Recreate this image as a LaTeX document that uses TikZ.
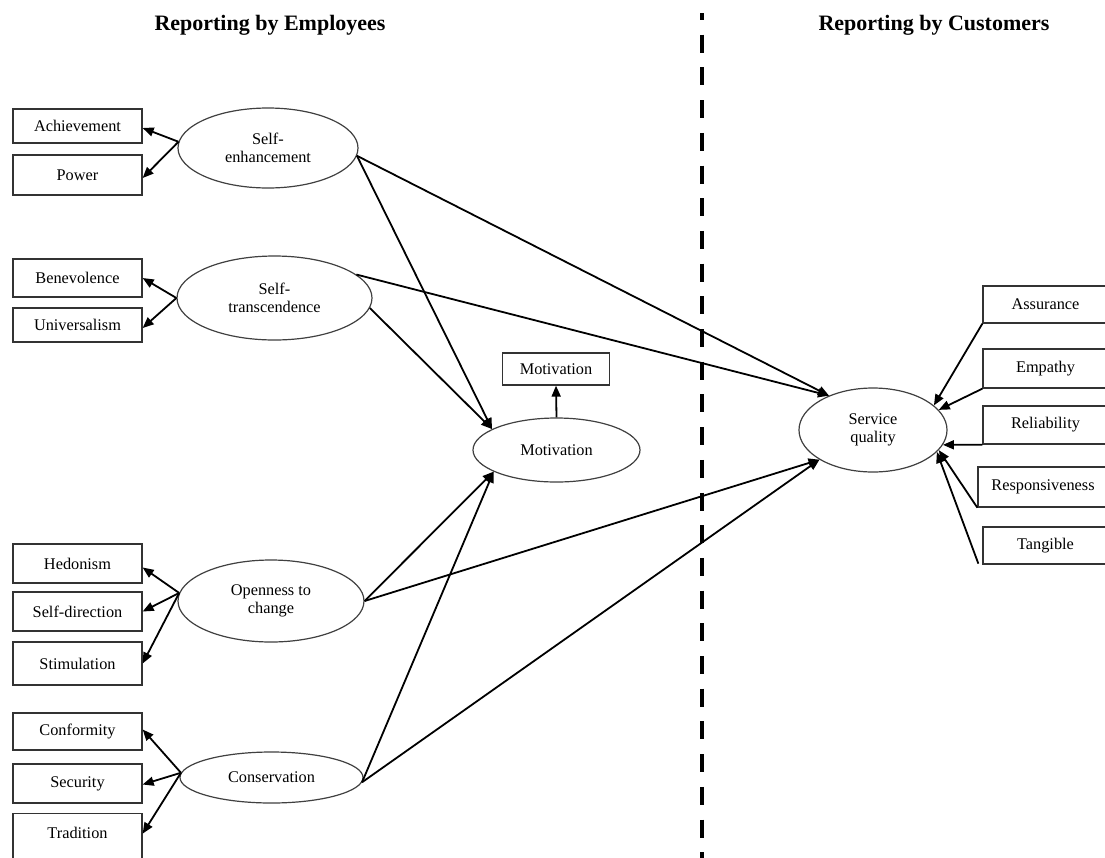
\documentclass[tikz,border=0pt]{standalone}
\usepackage{fontspec}
\setmainfont{Liberation Serif}
\usetikzlibrary{shapes.geometric,arrows.meta,calc}
\begin{document}
\begin{tikzpicture}[x=1pt,y=-1pt,
  lbox/.style={draw=black!80,line width=1.3pt,minimum width=129pt,inner sep=0pt,
    font=\fontsize{16.3}{17}\selectfont},
  rbox/.style={draw=black!80,line width=1.3pt,minimum width=125pt,inner sep=0pt,
    font=\fontsize{16.3}{17}\selectfont},
  ell/.style={ellipse,draw=black!75,line width=1.2pt,inner sep=0pt,align=center,
    font=\fontsize{16.3}{17.5}\selectfont},
  arr/.style={-{Triangle[length=11pt,width=9pt]},line width=1.8pt,black},
  head/.style={font=\fontsize{22}{24}\selectfont\bfseries}]
\useasboundingbox (0,0) rectangle (1105,857);
\clip (0,0) rectangle (1105,857);
\fill[white] (0,0) rectangle (1105,857);

% headings
\node[head] (hemp) at (270,25) {Reporting by Employees};
\node[head] (hcus) at (934,25) {Reporting by Customers};
\draw[line width=4pt,dash pattern=on 18pt off 14.7pt,dash phase=11pt] (702,13) -- (702,860);

% left boxes
\node[lbox,minimum height=34pt] (ach) at (77.5,126) {Achievement};
\node[lbox,minimum height=40pt] (pow) at (77.5,175) {Power};
\node[lbox,minimum height=38pt] (ben) at (77.5,278) {Benevolence};
\node[lbox,minimum height=34pt] (uni) at (77.5,325) {Universalism};
\node[lbox,minimum height=39pt] (hed) at (77.5,563.5) {Hedonism};
\node[lbox,minimum height=39pt] (sdir) at (77.5,611.5) {Self-direction};
\node[lbox,minimum height=43pt] (sti) at (77.5,663.5) {Stimulation};
\node[lbox,minimum height=37pt] (con) at (77.5,731.5) {Conformity};
\node[lbox,minimum height=39pt] (sec) at (77.5,783.5) {Security};
\node[lbox,anchor=north,text height=11pt,text depth=40pt,inner ysep=14pt] (tra) at (77.5,813) {Tradition};

% ellipses
\node[ell,minimum width=180pt,minimum height=80pt] (se) at (268,148) {Self-\\enhancement};
\node[ell,minimum width=195pt,minimum height=84pt] (st) at (274.5,298) {Self-\\transcendence};
\node[ell,minimum width=186pt,minimum height=82pt] (op) at (271,601) {Openness to\\change};
\node[ell,minimum width=183pt,minimum height=51pt] (cs) at (271.5,777.5) {Conservation};
\node[ell,minimum width=167pt,minimum height=64pt] (mot) at (556.5,450) {Motivation};
\node[lbox,minimum width=107pt,minimum height=32pt] (mbox) at (556,369) {Motivation};
\node[ell,minimum width=148pt,minimum height=84pt] (sq) at (873,430) {Service\\quality};

% right boxes
\node[rbox,minimum height=37pt] (ass) at (1045.5,304.5) {Assurance};
\node[rbox,minimum height=39pt] (emp) at (1045.5,368.5) {Empathy};
\node[rbox,minimum height=38pt] (rel) at (1045.5,425) {Reliability};
\node[rbox,minimum width=130pt,minimum height=40pt] (res) at (1043,487) {Responsiveness};
\node[rbox,minimum height=37pt] (tan) at (1045.5,545.5) {Tangible};

% indicator arrows (left)
\draw[arr] (se.176) -- ($(ach.east)+(0,2)$);
\draw[arr] (se.176) -- ($(pow.east)+(0,3)$);
\draw[arr] (st.west) -- (ben.east);
\draw[arr] (st.west) -- ($(uni.east)+(0,3)$);
\draw[arr] (op.175) -- ($(hed.east)+(0,4)$);
\draw[arr] (op.175) -- (sdir.east);
\draw[arr] (op.175) -- (sti.east);
\draw[arr] (cs.177) -- ($(con.east)+(0,-2)$);
\draw[arr] (cs.177) -- ($(sec.east)+(0,1)$);
\draw[arr] (cs.177) -- ($(tra.base east)+(0,-5)$);

% structural paths
\draw[arr] (se.-5) -- (mot.162.8);
\draw[arr] (st.-6) -- (mot.162.8);
\draw[arr] (op.east) -- (mot.199);
\draw[arr] (cs.-3) -- (mot.199);
\draw[arr] (se.-5) -- (sq.142.5);
\draw[arr] (st.16) -- (sq.142.5);
\draw[arr] (op.east) -- (sq.209.5);
\draw[arr] (cs.-3) -- (sq.209.5);
\draw[arr] (mot.north) -- (mbox.south);

% right indicator arrows
\draw[arr] (ass.south west) -- (sq.22);
\draw[arr] (emp.south west) -- (sq.17);
\draw[arr] (rel.south west) -- (sq.-12);
\draw[arr] (res.south west) -- (sq.-17);
\draw[arr] ($(tan.south west)+(-4,-1)$) -- (sq.-19);
\end{tikzpicture}
\end{document}
